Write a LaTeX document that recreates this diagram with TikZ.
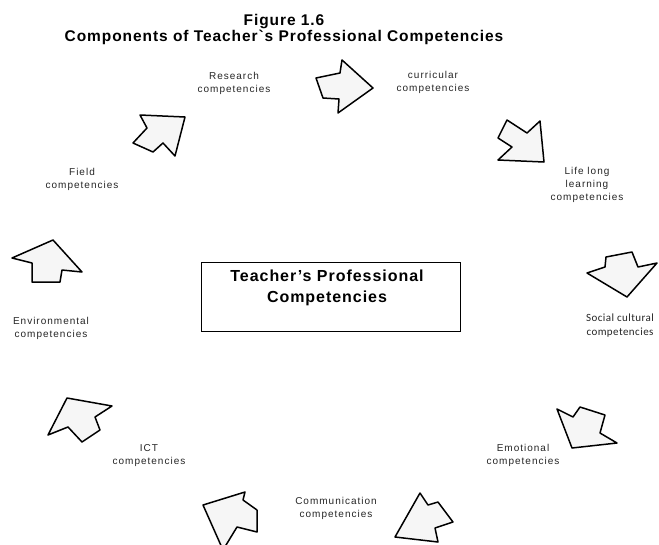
\documentclass[tikz,border=0pt]{standalone}
\usepackage{fontspec}
\setmainfont{Liberation Sans}
\newfontfamily\lblfont{Liberation Sans}[LetterSpace=10]
\newfontfamily\ttlfont{Liberation Sans}[LetterSpace=6]
\newfontfamily\socfont{Carlito}[LetterSpace=4]
\begin{document}
\begin{tikzpicture}[x=1pt,y=-1pt,
  blockarrow/.style={draw=black,line width=1.5pt,fill=gray!7,line join=round},
  lbl/.style={font=\lblfont\fontsize{10}{13}\selectfont,align=center,inner sep=0pt,text=black!85},
  soclbl/.style={font=\socfont\fontsize{11}{14}\selectfont,align=center,inner sep=0pt,text=black!85},
  ttl/.style={font=\ttlfont\bfseries\fontsize{15.5}{16}\selectfont,align=center,inner sep=0pt},
  boxtxt/.style={font=\ttlfont\bfseries\fontsize{16}{21}\selectfont,align=center,inner sep=0pt},
  centrebox/.style={draw=black,line width=0.9pt,minimum width=259pt,minimum height=69pt,inner sep=0pt}]
\useasboundingbox (0,0) rectangle (659,544);
\clip (0,0) rectangle (659,544);
\fill[white] (0,0) rectangle (659,544);

% title
\node[ttl] (title) at (284,29) {Figure 1.6\\Components of Teacher`s Professional Competencies};

% centre box
\node[centrebox] (box) at (330.5,296.5) {};
\node[boxtxt] (boxtext) at (327,288) {Teacher’s Professional\\Competencies};

% labels
\node[lbl] (research) at (234,83) {Research\\competencies};
\node[lbl] (curricular) at (433,82.5) {curricular\\competencies};
\node[lbl] (lifelong) at (587,184.5) {Life long\\learning\\competencies};
\node[soclbl] (social) at (620,325.5) {Social cultural\\competencies};
\node[lbl] (emotional) at (523,455) {Emotional\\competencies};
\node[lbl] (communication) at (336,508) {Communication\\competencies};
\node[lbl] (ict) at (149,455.5) {ICT\\competencies};
\node[lbl] (environmental) at (51,328.5) {Environmental\\competencies};
\node[lbl] (field) at (82,179) {Field\\competencies};

% block arrows
\draw[blockarrow] (316,78) -- (340,73) -- (342,60) -- (373,88) -- (338,113) -- (339,99) -- (323,98) -- cycle;
\draw[blockarrow] (507,120) -- (527,133) -- (540,121) -- (544,162) -- (498,160) -- (512,147) -- (498,138) -- cycle;
\draw[blockarrow] (587,273) -- (605,267) -- (606,257) -- (632,252) -- (638,267) -- (657,263) -- (627,297) -- cycle;
\draw[blockarrow] (557,409) -- (573,417) -- (580,407) -- (605,415) -- (600,433) -- (617,443) -- (572,448) -- cycle;
\draw[blockarrow] (420,493) -- (428,505) -- (438,502) -- (453,522) -- (435,528) -- (438,542) -- (395,537) -- cycle;
\draw[blockarrow] (203,505) -- (245,492) -- (243,500) -- (257,510) -- (257,532) -- (237,527) -- (223,550) -- cycle;
\draw[blockarrow] (48,435) -- (67,398) -- (112,406) -- (95,417) -- (100,430) -- (82,442) -- (68,427) -- cycle;
\draw[blockarrow] (12,258) -- (53,240) -- (82,272) -- (62,270) -- (60,282) -- (32,282) -- (32,263) -- cycle;
\draw[blockarrow] (140,115) -- (185,117) -- (175,156) -- (163,143) -- (153,152) -- (133,143) -- (147,128) -- cycle;
\end{tikzpicture}
\end{document}
